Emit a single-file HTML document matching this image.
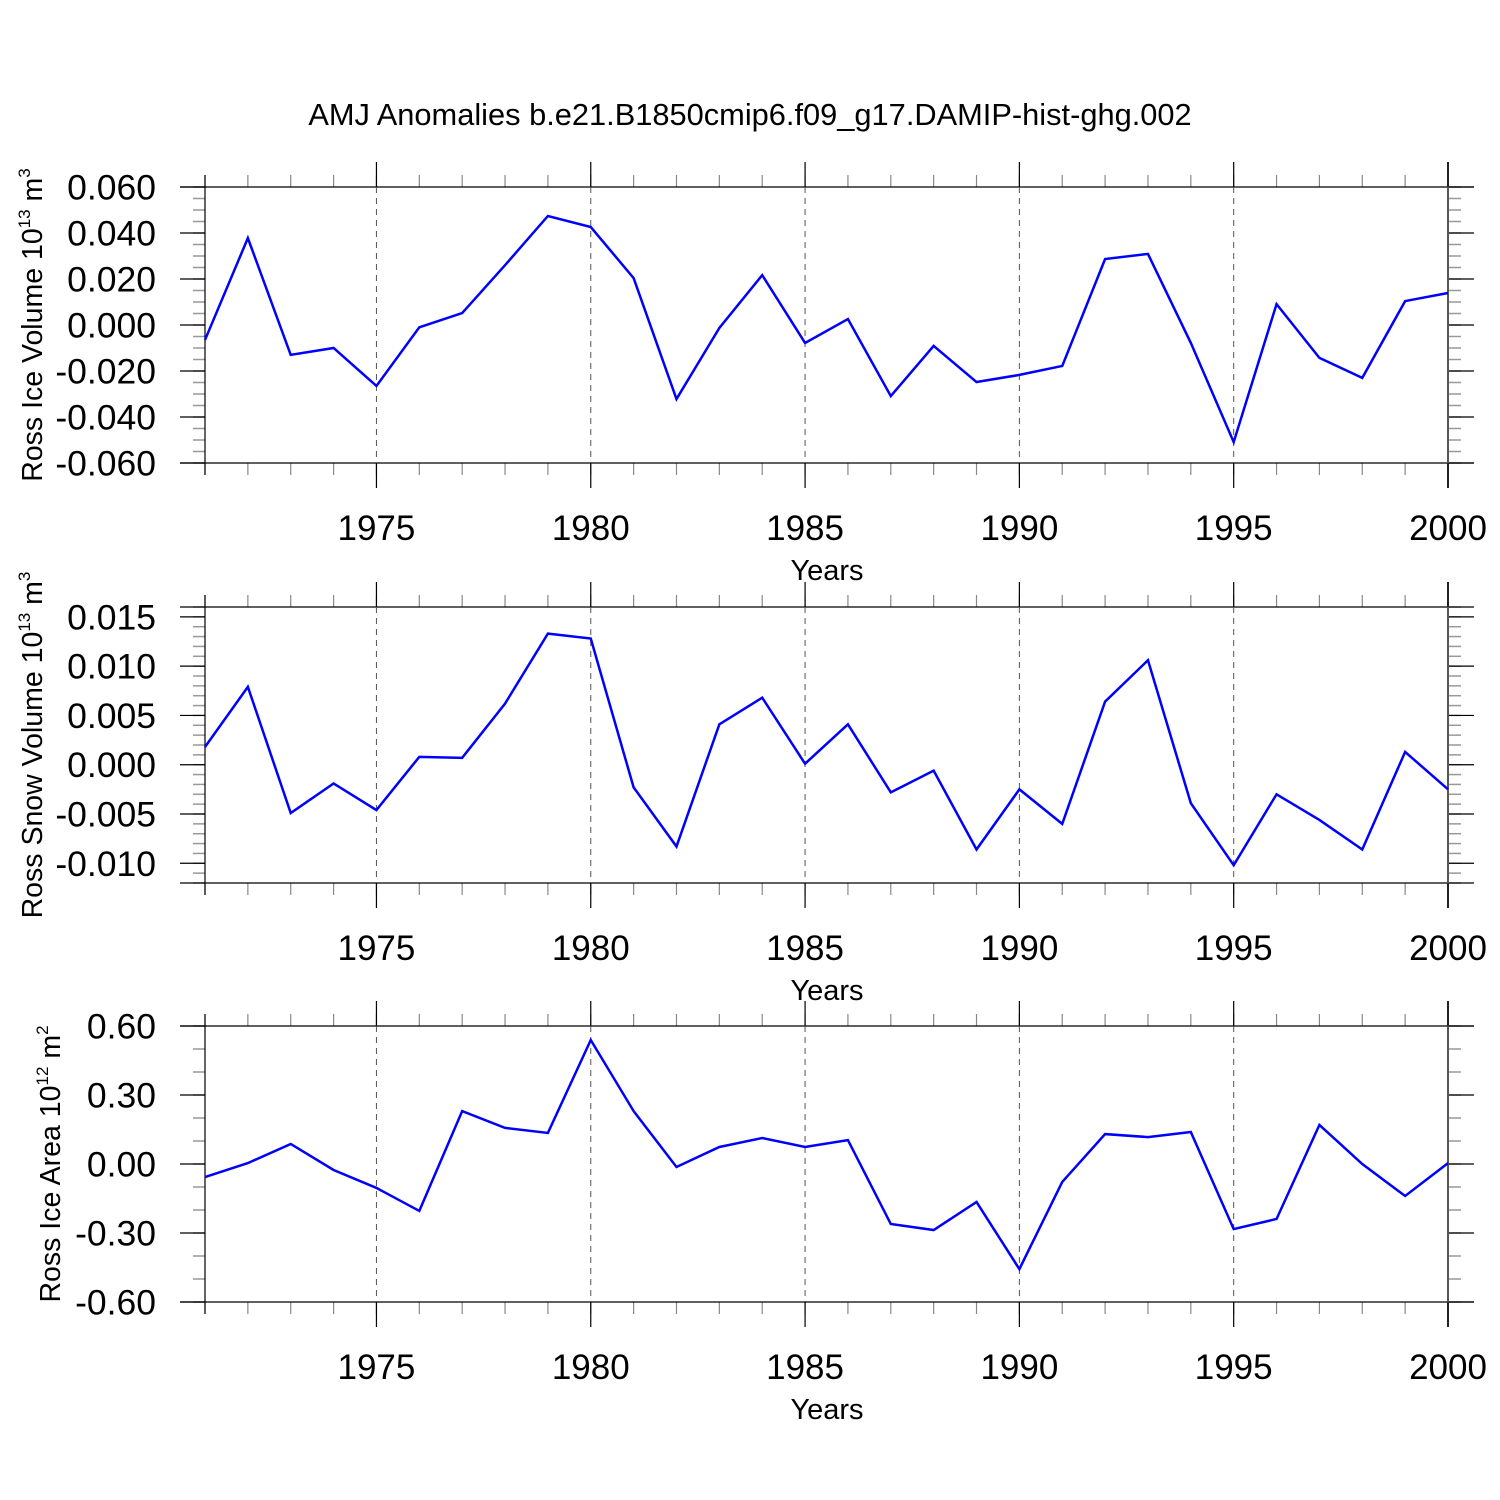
<!DOCTYPE html>
<html><head><meta charset="utf-8"><style>
html,body{margin:0;padding:0;background:#fff;}
svg{display:block;font-family:"Liberation Sans",sans-serif;}
</style></head><body>
<svg id="chart" width="1500" height="1500" viewBox="0 0 1500 1500" xmlns="http://www.w3.org/2000/svg">
<text x="750" y="125" font-size="30.8" text-anchor="middle">AMJ Anomalies b.e21.B1850cmip6.f09_g17.DAMIP-hist-ghg.002</text>
</svg>
<script>
const years = [1971,1972,1973,1974,1975,1976,1977,1978,1979,1980,1981,1982,1983,1984,1985,1986,1987,1988,1989,1990,1991,1992,1993,1994,1995,1996,1997,1998,1999,2000];
const iceVolume = [-0.0065,0.0378,-0.013,-0.010,-0.0265,-0.001,0.0052,0.026,0.0474,0.0426,0.0204,-0.0322,-0.0013,0.0217,-0.0078,0.0026,-0.0309,-0.0091,-0.0248,-0.0217,-0.0178,0.0287,0.0309,-0.0078,-0.0509,0.0091,-0.0143,-0.023,0.0104,0.0139];
const snowVolume = [0.0018,0.0079,-0.0049,-0.0019,-0.0046,0.0008,0.0007,0.0062,0.0133,0.0128,-0.0023,-0.0083,0.0041,0.0068,0.0001,0.0041,-0.0028,-0.0006,-0.0086,-0.0025,-0.0060,0.0064,0.0106,-0.0039,-0.0102,-0.0030,-0.0056,-0.0086,0.0013,-0.0025];
const iceArea = [-0.057,0.004,0.087,-0.026,-0.104,-0.204,0.23,0.157,0.135,0.539,0.23,-0.013,0.074,0.113,0.074,0.104,-0.261,-0.287,-0.165,-0.457,-0.078,0.13,0.117,0.139,-0.283,-0.239,0.17,0.0,-0.139,0.004];
const xTickYears = [1975,1980,1985,1990,1995,2000];
const iceVolumeTicks = [0.06,0.04,0.02,0,-0.02,-0.04,-0.06];
const snowVolumeTicks = [0.015,0.010,0.005,0,-0.005,-0.010];
const iceAreaTicks = [0.6,0.3,0,-0.3,-0.6];

const NS='http://www.w3.org/2000/svg';
const svg=document.getElementById('chart');
const X0=205,X1=1448;
function xs(yr){return X0+(yr-1971)*(X1-X0)/(2000-1971);}
function mk(tag,attrs,parent){const e=document.createElementNS(NS,tag);for(const k in attrs)e.setAttribute(k,attrs[k]);(parent||svg).appendChild(e);return e;}

function panel(id,top,ymin,ymax,ticks,dec,minorStep,values,labelParts,labelX){
  const bot=top+276;
  const g=mk('g',{});
  
  
  const ys=v=>bot-(v-ymin)*(bot-top)/(ymax-ymin);
  const n=Math.round((ymax-ymin)/minorStep);
  for(let i=0;i<=n;i++){const v=ymin+i*minorStep;const y=ys(v);
    mk('line',{x1:193,x2:X0,y1:y,y2:y,stroke:'#999','stroke-width':1.5},g);
    mk('line',{x1:X1,x2:1461,y1:y,y2:y,stroke:'#999','stroke-width':1.5},g);}
  for(let yr=1971;yr<=2000;yr++){const x=xs(yr);
    mk('line',{x1:x,x2:x,y1:top-12,y2:top,stroke:'#888','stroke-width':1.2},g);
    mk('line',{x1:x,x2:x,y1:bot,y2:bot+12,stroke:'#888','stroke-width':1.2},g);}
  ticks.forEach(v=>{const y=ys(v);
    mk('line',{x1:180,x2:X0,y1:y,y2:y,stroke:'#000','stroke-width':1.2},g);
    mk('line',{x1:X1,x2:1474,y1:y,y2:y,stroke:'#000','stroke-width':1.2},g);
    const t=mk('text',{x:156,y:y+12.5,'font-size':35.5,'text-anchor':'end'},g);
    
    
    t.textContent=v.toFixed(dec);});
  mk('line',{x1:180,x2:1474,y1:top,y2:top,stroke:'#000','stroke-width':1.2},g);
  mk('line',{x1:180,x2:1474,y1:bot,y2:bot,stroke:'#000','stroke-width':1.2},g);
  mk('line',{x1:X0,x2:X0,y1:top-12,y2:bot+12,stroke:'#000','stroke-width':1.2},g);
  mk('line',{x1:X1,x2:X1,y1:top-25,y2:bot+25,stroke:'#555','stroke-width':2},g);
  xTickYears.forEach(yr=>{const x=xs(yr);
    mk('line',{x1:x,x2:x,y1:top-25,y2:top,stroke:'#000','stroke-width':1.2},g);
    mk('line',{x1:x,x2:x,y1:bot,y2:bot+25,stroke:'#000','stroke-width':1.2},g);
    if(yr<2000) mk('line',{x1:x,x2:x,y1:top,y2:bot,stroke:'#555','stroke-width':1,'stroke-dasharray':'6,5'},g);
    const t=mk('text',{x:x,y:bot+77,'font-size':35,'text-anchor':'middle'},g);
    
    
    t.textContent=yr;});
  const xt=mk('text',{x:827,y:bot+117,'font-size':29,'text-anchor':'middle'},g);
  
  
  xt.textContent='Years';
  const cy=(top+bot)/2;
  const yt=mk('text',{x:0,y:0,'font-size':28.5,'text-anchor':'middle',transform:`translate(${labelX},${cy}) rotate(-90)`},g);
  
  
  const a=mk('tspan',{},yt);a.textContent=labelParts[0];
  const b=mk('tspan',{dy:-12,'font-size':17},yt);b.textContent=labelParts[1];
  const c=mk('tspan',{dy:12},yt);c.textContent=' m';
  const d=mk('tspan',{dy:-12,'font-size':17},yt);d.textContent=labelParts[2];
  const pts=values.map((v,i)=>xs(years[i])+','+ys(v)).join(' ');
  const pl=mk('polyline',{points:pts,fill:'none',stroke:'#0000ff','stroke-width':2.5,'stroke-linejoin':'miter'},g);
  
  
}
panel('ice-volume',187,-0.06,0.06,iceVolumeTicks,3,0.005,iceVolume,['Ross Ice Volume 10','13','3'],42);
panel('snow-volume',607,-0.012,0.016,snowVolumeTicks,3,0.001,snowVolume,['Ross Snow Volume 10','13','3'],42);
panel('ice-area',1026,-0.6,0.6,iceAreaTicks,2,0.1,iceArea,['Ross Ice Area 10','12','2'],60);
</script>
</body></html>
